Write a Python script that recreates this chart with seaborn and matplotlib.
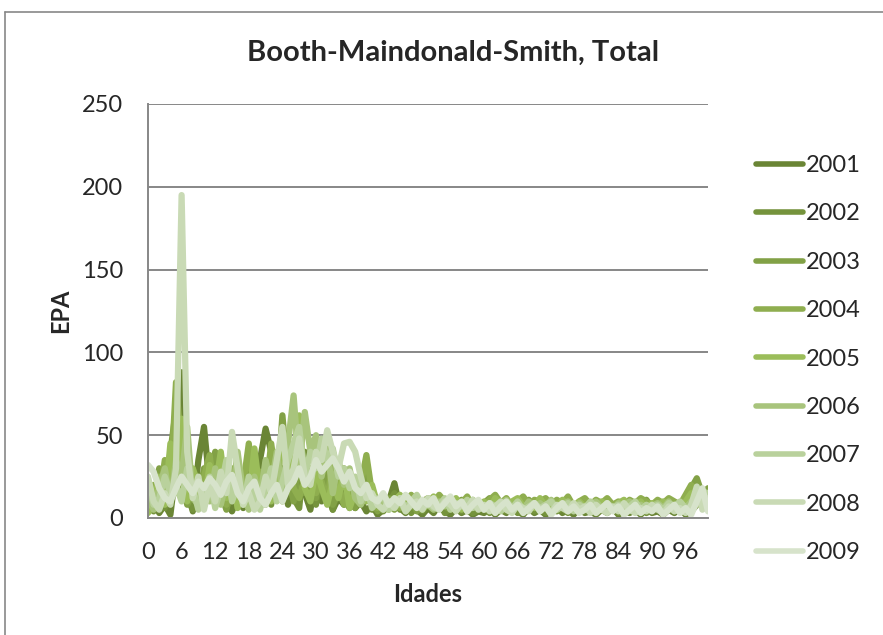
import numpy as np
import pandas as pd
import matplotlib
matplotlib.use("Agg")
import matplotlib.pyplot as plt
import seaborn as sns
from matplotlib.lines import Line2D
from matplotlib.ticker import MultipleLocator

# ages 0..100, values (EPA by age, per year)
ages = list(range(101))
years = ["2001", "2002", "2003", "2004", "2005", "2006", "2007", "2008", "2009"]

epa_2001 = [5, 12, 3, 8, 2, 30, 88, 20, 4, 35,
            55, 20, 8, 25, 10, 4, 12, 6, 30, 10,
            35, 54, 40, 12, 30, 8, 20, 45, 15, 5,
            25, 10, 30, 5, 12, 8, 22, 6, 10, 4,
            8, 2, 5, 10, 21, 6, 3, 8, 5, 2,
            6, 3, 8, 4, 2, 6, 3, 5, 2, 4,
            3, 6, 2, 5, 3, 8, 4, 2, 6, 3,
            5, 2, 4, 7, 3, 5, 2, 6, 3, 4,
            2, 5, 3, 6, 2, 4, 3, 5, 2, 6,
            3, 4, 2, 5, 3, 6, 2, 4, 8, 10,
            16]
epa_2002 = [10, 4, 15, 6, 25, 55, 30, 12, 5, 20,
            18, 35, 10, 28, 6, 15, 25, 8, 12, 30,
            10, 22, 8, 35, 18, 30, 12, 6, 40, 20,
            8, 30, 15, 5, 20, 12, 6, 18, 8, 30,
            5, 12, 4, 8, 15, 5, 10, 3, 7, 4,
            8, 5, 10, 3, 6, 9, 4, 7, 3, 5,
            7, 3, 9, 5, 4, 7, 3, 6, 8, 4,
            6, 3, 8, 4, 6, 3, 7, 5, 4, 8,
            3, 6, 4, 7, 3, 5, 8, 4, 6, 3,
            5, 7, 3, 6, 4, 8, 5, 12, 15, 8,
            12]
epa_2003 = [15, 8, 30, 12, 40, 66, 22, 8, 15, 10,
            30, 12, 40, 15, 5, 20, 8, 25, 6, 15,
            20, 8, 30, 12, 62, 25, 10, 35, 15, 28,
            12, 40, 20, 8, 15, 30, 10, 6, 18, 25,
            10, 4, 8, 12, 5, 9, 6, 11, 4, 8,
            10, 6, 12, 7, 5, 9, 11, 6, 8, 5,
            9, 12, 6, 8, 10, 5, 9, 7, 11, 6,
            8, 10, 6, 9, 7, 11, 5, 8, 10, 6,
            9, 7, 11, 6, 8, 10, 5, 9, 7, 11,
            6, 9, 8, 10, 7, 9, 12, 18, 24, 14,
            18]
epa_2004 = [8, 20, 10, 35, 18, 82, 40, 15, 28, 12,
            25, 38, 14, 22, 8, 30, 12, 20, 45, 10,
            28, 15, 45, 20, 10, 35, 18, 12, 25, 30,
            15, 22, 10, 35, 18, 8, 25, 12, 20, 38,
            15, 6, 10, 8, 12, 6, 9, 14, 7, 10,
            12, 8, 14, 10, 6, 11, 9, 13, 7, 10,
            8, 11, 14, 9, 12, 7, 10, 13, 8, 11,
            10, 12, 8, 11, 9, 13, 7, 10, 12, 8,
            11, 9, 12, 8, 10, 7, 11, 9, 12, 10,
            8, 11, 9, 12, 10, 8, 14, 20, 16, 10,
            14]
epa_2005 = [3, 10, 25, 8, 45, 15, 60, 10, 30, 20,
            8, 32, 18, 40, 12, 25, 6, 18, 10, 42,
            15, 30, 10, 25, 50, 20, 40, 62, 18, 10,
            30, 18, 8, 22, 12, 28, 6, 16, 22, 10,
            20, 8, 12, 5, 10, 14, 6, 9, 12, 5,
            9, 13, 6, 10, 8, 12, 5, 9, 11, 7,
            10, 6, 12, 8, 5, 10, 12, 7, 9, 6,
            12, 7, 9, 5, 11, 8, 6, 10, 7, 9,
            6, 10, 8, 5, 9, 11, 6, 8, 10, 5,
            9, 7, 10, 6, 8, 5, 10, 15, 8, 12,
            10]
epa_2006 = [12, 5, 18, 30, 10, 35, 25, 55, 12, 8,
            20, 10, 30, 8, 22, 12, 40, 15, 5, 25,
            12, 35, 20, 40, 15, 45, 74, 30, 64, 40,
            50, 25, 42, 15, 35, 20, 30, 12, 8, 15,
            8, 12, 5, 9, 6, 10, 4, 8, 11, 6,
            8, 5, 10, 7, 12, 6, 9, 4, 8, 10,
            6, 9, 5, 8, 11, 6, 8, 5, 10, 7,
            9, 6, 11, 5, 8, 10, 6, 9, 5, 8,
            10, 6, 8, 5, 9, 7, 10, 6, 8, 5,
            7, 9, 6, 10, 5, 8, 6, 10, 12, 8,
            6]
epa_2007 = [20, 8, 12, 25, 15, 20, 10, 30, 18, 5,
            15, 25, 6, 18, 35, 10, 20, 8, 25, 12,
            5, 18, 30, 10, 22, 35, 45, 55, 25, 40,
            30, 48, 35, 42, 25, 30, 18, 25, 10, 20,
            6, 10, 14, 5, 8, 12, 6, 10, 14, 7,
            10, 6, 8, 12, 5, 9, 7, 11, 6, 8,
            5, 9, 7, 4, 8, 6, 10, 5, 7, 9,
            6, 8, 10, 5, 7, 9, 4, 8, 6, 10,
            7, 5, 9, 6, 8, 4, 7, 10, 5, 8,
            6, 8, 5, 9, 7, 10, 6, 5, 10, 16,
            15]
epa_2008 = [25, 10, 5, 15, 8, 30, 195, 40, 12, 25,
            5, 20, 10, 28, 15, 52, 30, 8, 15, 5,
            10, 25, 15, 35, 55, 20, 30, 48, 25, 20,
            40, 35, 53, 40, 30, 45, 46, 40, 25, 12,
            15, 8, 5, 10, 6, 12, 4, 8, 10, 5,
            12, 7, 5, 10, 8, 4, 9, 6, 11, 5,
            8, 4, 7, 10, 5, 3, 8, 6, 4, 9,
            5, 7, 3, 8, 6, 4, 9, 5, 7, 3,
            8, 5, 3, 7, 4, 9, 5, 3, 6, 4,
            8, 5, 3, 7, 4, 6, 3, 8, 19, 5,
            12]
epa_2009 = [32, 28, 18, 12, 10, 18, 25, 20, 15, 22,
            18, 24, 20, 14, 22, 26, 15, 10, 18, 22,
            12, 8, 15, 20, 10, 18, 22, 30, 20, 25,
            35, 28, 32, 36, 30, 22, 28, 18, 15, 20,
            12, 10, 15, 8, 12, 9, 14, 10, 6, 11,
            8, 12, 5, 9, 13, 7, 10, 4, 8, 11,
            5, 9, 3, 7, 10, 5, 8, 3, 6, 9,
            4, 7, 2, 6, 9, 4, 7, 3, 5, 8,
            3, 6, 9, 4, 7, 2, 5, 8, 3, 6,
            4, 7, 2, 5, 8, 3, 6, 2, 10, 18,
            4]

colors = ["#6a8535", "#75933c", "#82a146", "#8fae4f", "#9bbd5a",
          "#a8c47c", "#b9d19c", "#c9dab5", "#d7e3cb"]

series = [epa_2001, epa_2002, epa_2003, epa_2004, epa_2005,
          epa_2006, epa_2007, epa_2008, epa_2009]
df = pd.concat([pd.DataFrame({"Idades": ages, "EPA": s, "Ano": y})
                for y, s in zip(years, series)])

sns.set_style("white")
plt.rcParams["font.family"] = ["Lato", "DejaVu Sans"]

fig = plt.figure(figsize=(8.83, 6.35), dpi=100)
ax = fig.add_axes([148/883, 1-518/635, 560/883, 414/635])

sns.lineplot(data=df, x="Idades", y="EPA", hue="Ano", palette=colors,
             linewidth=4.5, ax=ax, legend=False,
             solid_capstyle="round", solid_joinstyle="round")

ax.set_xlim(0, 100)
ax.set_ylim(0, 250)
ax.set_yticks(range(0, 251, 50))
ax.set_xticks(range(0, 97, 6))
ax.xaxis.set_minor_locator(MultipleLocator(1))
ax.yaxis.grid(True, color="#878787", linewidth=1.4)
ax.set_axisbelow(True)
for s in ["top", "right"]:
    ax.spines[s].set_visible(False)
for s in ["left", "bottom"]:
    ax.spines[s].set_color("#878787")
    ax.spines[s].set_linewidth(1.4)
ax.tick_params(axis="x", which="both", direction="out", length=5, width=1.2,
               color="#878787", labelsize=17, pad=12)
ax.tick_params(axis="y", which="both", length=0, labelsize=17, pad=18)
ax.set_xlabel("Idades", fontsize=17, fontweight="bold", labelpad=15)
ax.set_ylabel("EPA", fontsize=17, fontweight="bold", labelpad=7)
fig.text(453/883, 1-53/635, "Booth-Maindonald-Smith, Total", fontsize=21,
         fontweight="bold", ha="center", va="center")

handles = [Line2D([0], [0], color=c, linewidth=4, solid_capstyle="round") for c in colors]
fig.legend(handles, years, loc="upper left", bbox_to_anchor=(756/883, 1-155/635),
           frameon=False, fontsize=17, handlelength=2.0, labelspacing=1.16,
           handletextpad=0.1, borderpad=0, borderaxespad=0)

# chart area border
fig.add_artist(Line2D([5/883, 5/883], [0, 1-12/635], color="#878787", linewidth=1.2))
fig.add_artist(Line2D([5/883, 1], [1-12/635, 1-12/635], color="#878787", linewidth=1.2))

fig.savefig("out.png", dpi=100)
